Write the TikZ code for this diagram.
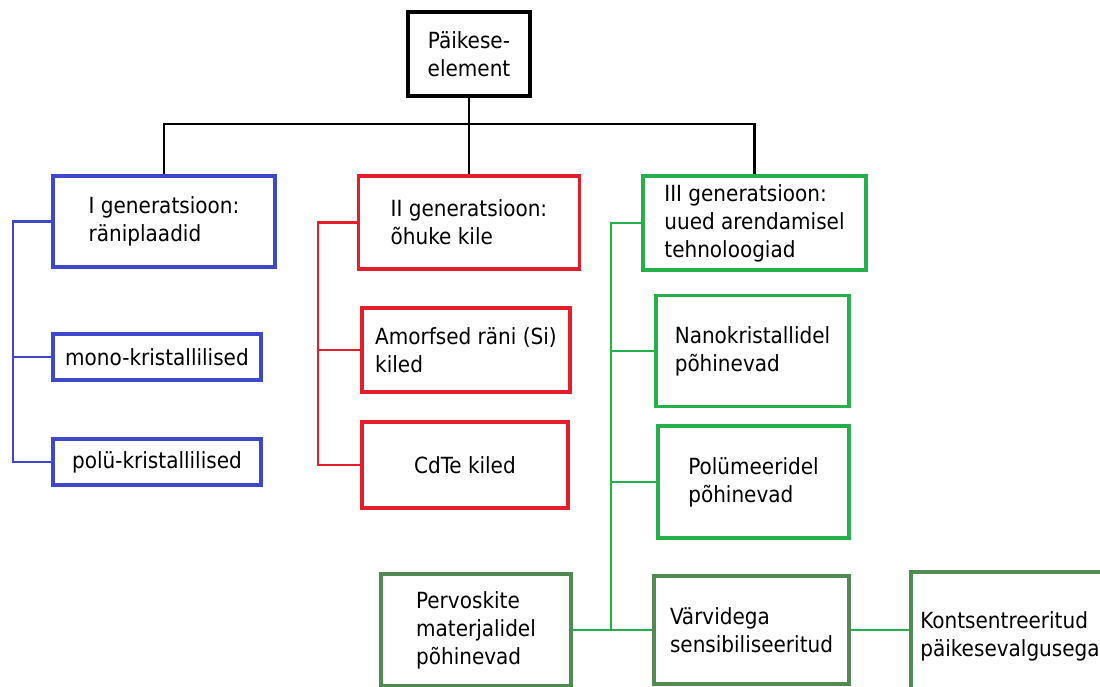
\documentclass[tikz,border=0pt]{standalone}
\usepackage{fontspec}
\setmainfont{DejaVu Sans Condensed}
\definecolor{genblue}{RGB}{63,72,204}
\definecolor{genred}{RGB}{228,30,42}
\definecolor{gengreen}{RGB}{38,176,76}
\definecolor{darkgreen}{RGB}{82,138,84}
\begin{document}
\begin{tikzpicture}[x=0.03cm, y=-0.03cm,
    every node/.style={font=\fontsize{19}{24}\selectfont, inner sep=0pt},
    cell/.style={draw, line width=3.2pt, align=left},
    link/.style={line width=2pt}]
    \fill[white] (0,0) rectangle (1100,686);
    \useasboundingbox (0,0) rectangle (1100,686);
    \clip (0,0) rectangle (1100,686);
    % root
    \node[cell, black, align=center, minimum width=3.66cm, minimum height=2.52cm] (root) at (469,54) {Päikese-\\element};
    % generations
    \node[cell, draw=genblue, minimum width=6.66cm, minimum height=2.73cm] (gen1) at (164,221.5) {I generatsioon:\\räniplaadid};
    \node[cell, draw=genred, minimum width=6.63cm, minimum height=2.79cm] (gen2) at (469,222.5) {II generatsioon:\\õhuke kile};
    \node[cell, draw=gengreen, minimum width=6.69cm, minimum height=2.82cm] (gen3) at (754.5,223) {III generatsioon:\\uued arendamisel\\tehnoloogiad};
    % I
    \node[cell, draw=genblue, minimum width=6.24cm, minimum height=1.38cm] (mono) at (157,357) {mono-kristallilised};
    \node[cell, draw=genblue, minimum width=6.24cm, minimum height=1.38cm] (poly) at (157,462) {polü-kristallilised};
    % II
    \node[cell, draw=genred, minimum width=6.24cm, minimum height=2.52cm] (amorf) at (466,350) {Amorfsed räni (Si)\\kiled};
    \node[cell, draw=genred, minimum width=6.18cm, minimum height=2.58cm] (cdte) at (465,465) {CdTe kiled};
    % III
    \node[cell, draw=gengreen, minimum width=5.79cm, minimum height=3.33cm] (nano) at (752.5,351) {Nanokristallidel\\põhinevad};
    \node[cell, draw=gengreen, minimum width=5.73cm, minimum height=3.36cm] (polym) at (753.5,482) {Polümeeridel\\põhinevad};
    \node[cell, draw=darkgreen, minimum width=5.7cm, minimum height=3.36cm] (perov) at (476,630) {Pervoskite\\materjalidel\\põhinevad};
    \node[cell, draw=darkgreen, minimum width=5.85cm, minimum height=3.24cm] (dye) at (751.5,630) {Värvidega\\sensibiliseeritud};
    \node[cell, draw=darkgreen, minimum width=5.94cm, minimum height=3.84cm] (conc) at (1010,636) {Kontsentreeritud\\päikesevalgusega};

    \coordinate (bus) at (469,124);
    \coordinate (s1) at (13,0);
    \coordinate (s2) at (318,0);
    \coordinate (s3) at (611,0);

    \draw[link] (root.south) -- (bus);
    \draw[link] (gen1.north) -- (gen1.north |- bus) -- (gen3.north |- bus) -- (gen3.north);
    \draw[link] (bus) -- (gen2.north);

    \draw[link, genblue] (gen1.west) -- (gen1.west -| s1) |- (poly.west);
    \draw[link, genblue] (mono.west) -- (mono.west -| s1);

    \draw[link, genred] (gen2.west) -- (gen2.west -| s2) |- (cdte.west);
    \draw[link, genred] (amorf.west) -- (amorf.west -| s2);

    \draw[link, gengreen] (gen3.west) -- (gen3.west -| s3) -- (perov.east -| s3);
    \draw[link, gengreen] (nano.west) -- (nano.west -| s3);
    \draw[link, gengreen] (polym.west) -- (polym.west -| s3);
    \draw[link, gengreen] (perov.east) -- (dye.west);
    \draw[link, gengreen] (dye.east) -- (dye.east -| conc.west);
\end{tikzpicture}
\end{document}
